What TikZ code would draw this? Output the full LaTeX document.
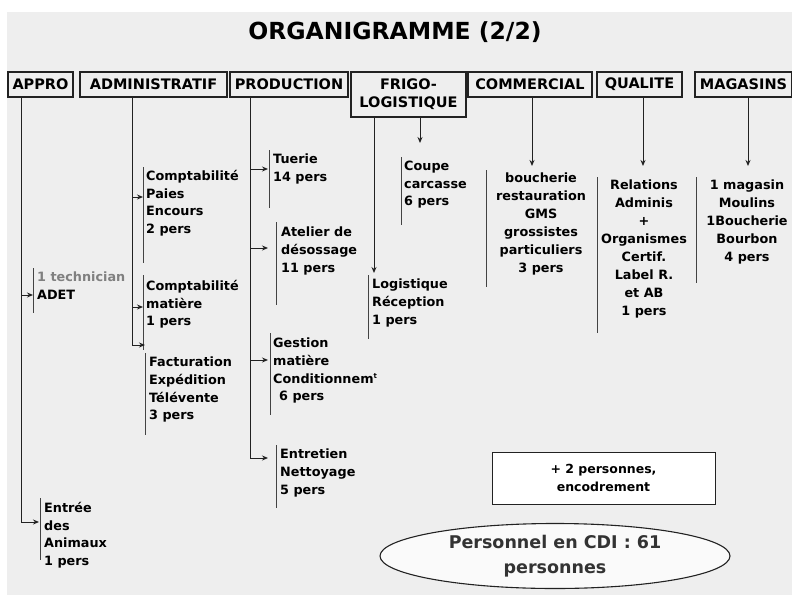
\documentclass[tikz,border=0pt]{standalone}
\usepackage{fontspec}
\setmainfont{DejaVu Sans}
\usetikzlibrary{arrows.meta,shapes.geometric}
\definecolor{bg}{HTML}{EEEEEE}
\definecolor{ln}{HTML}{222222}
\begin{document}
\begin{tikzpicture}[x=1pt,y=-1pt,
  hdr/.style={draw=ln,line width=1.1pt,inner sep=0pt,font=\bfseries\fontsize{14.5}{17}\selectfont,align=center},
  blk/.style={inner sep=0pt,anchor=north west,align=left,font=\bfseries\fontsize{12.8}{17.6}\selectfont},
  blkc/.style={inner sep=0pt,anchor=north,align=center,font=\bfseries\fontsize{12.8}{17.9}\selectfont},
  bar/.style={draw=ln!85,line width=1pt},
  conn/.style={draw=ln,line width=1pt,-{Stealth[length=6pt,width=5pt]}},
  link/.style={draw=ln,line width=1pt}]
\useasboundingbox (0,0) rectangle (792,597);
\fill[white] (0,0) rectangle (792,597);
\fill[bg] (7,12) rectangle (792,595);

% title
\node[font=\bfseries\fontsize{23.5}{26}\selectfont] (title) at (395,32) {ORGANIGRAMME (2/2)};

% headers
\node[hdr,minimum width=65pt,minimum height=25pt] (appro) at (40.5,84.5) {APPRO};
\node[hdr,minimum width=147pt,minimum height=25pt] (admin) at (153.5,84.5) {ADMINISTRATIF};
\node[hdr,minimum width=118pt,minimum height=25pt] (prod) at (289,84.5) {PRODUCTION};
\node[hdr,minimum width=115pt,minimum height=45pt,font=\bfseries\fontsize{14.5}{18}\selectfont] (frigo) at (408.5,94.5) {FRIGO-\\LOGISTIQUE};
\node[hdr,minimum width=124pt,minimum height=25pt] (comm) at (530,84.5) {COMMERCIAL};
\node[hdr,minimum width=85pt,minimum height=25pt] (qual) at (639.5,84.5) {QUALITE};
\node[hdr,minimum width=97pt,minimum height=25pt] (mag) at (743.5,84.5) {MAGASINS};

% connector start points on header bottoms
\coordinate (a0) at (21,97);
\coordinate (d0) at (132,97);
\coordinate (p0) at (250,97);
\coordinate (f1) at (374,117);
\coordinate (f2) at (420,117);
\coordinate (c0) at (532,97);
\coordinate (q0) at (643,97);
\coordinate (m0) at (748,97);

% ---------- APPRO
\node[blk] (adet) at (37,272) {\textcolor{black!50}{1 technician}\\ADET};
\draw[bar] (33,268) -- (33,313);
\node[blk] (entree) at (44,502) {Entrée\\des\\Animaux\\1 pers};
\draw[bar] (40,498) -- (40,560);
\coordinate (adetin) at (33,295);
\coordinate (entin) at (39,522);
\draw[conn] (a0) |- (adetin);
\draw[conn] (a0) |- (entin);

% ---------- ADMINISTRATIF
\node[blk] (compta) at (146,170) {Comptabilité\\Paies\\Encours\\2 pers};
\draw[bar] (143,167) -- (143,263);
\node[blk] (comptm) at (146,280) {Comptabilité\\matière\\1 pers};
\draw[bar] (143,275) -- (143,350);
\node[blk] (fact) at (149,357) {Facturation\\Expédition\\Télévente\\3 pers};
\draw[bar] (145,353) -- (145,435);
\coordinate (compin) at (143,197);
\coordinate (cmin) at (143,307);
\coordinate (factin) at (145,345);
\draw[conn] (d0) |- (compin);
\draw[conn] (d0) |- (cmin);
\draw[conn] (d0) |- (factin);

% ---------- PRODUCTION
\node[blk] (tuerie) at (273,154) {Tuerie\\14 pers};
\draw[bar] (269,150) -- (269,208);
\node[blk] (atelier) at (281,227) {Atelier de\\désossage\\11 pers};
\draw[bar] (276,222) -- (276,305);
\node[blk] (gestion) at (273,338) {Gestion\\matière\\Conditionnem\textsuperscript{\fontsize{7}{7}\selectfont t}\\\hspace*{6pt}6 pers};
\draw[bar] (270,333) -- (270,415);
\node[blk] (entretien) at (280,449) {Entretien\\Nettoyage\\5 pers};
\draw[bar] (276,445) -- (276,508);
\coordinate (tuin) at (268,169);
\coordinate (atin) at (268,248);
\coordinate (gein) at (268,360);
\coordinate (enin) at (268,458);
\draw[conn] (p0) |- (tuin);
\draw[conn] (p0) |- (atin);
\draw[conn] (p0) |- (gein);
\draw[conn] (p0) |- (enin);

% ---------- FRIGO-LOGISTIQUE
\node[blk] (coupe) at (404,161) {Coupe\\carcasse\\6 pers};
\draw[bar] (401,157) -- (401,225);
\node[blk] (logis) at (372,279) {Logistique\\Réception\\1 pers};
\draw[bar] (368,275) -- (368,339);
\coordinate (lgin) at (374,273);
\coordinate (cpin) at (420,143);
\draw[conn] (f1) -- (lgin);
\draw[conn] (f2) -- (cpin);

% ---------- COMMERCIAL
\node[blkc] (combk) at (541,173) {boucherie\\restauration\\GMS\\grossistes\\particuliers\\3 pers};
\draw[bar] (486,170) -- (486,287);
\coordinate (cin) at (532,166);
\draw[conn] (c0) -- (cin);

% ---------- QUALITE
\node[blkc] (qualbk) at (644,180) {Relations\\Adminis\\+\\Organismes\\Certif.\\Label R.\\et AB\\1 pers};
\draw[bar] (597,177) -- (597,333);
\coordinate (qin) at (643,166);
\draw[conn] (q0) -- (qin);

% ---------- MAGASINS
\node[blkc] (magbk) at (747,180) {1 magasin\\Moulins\\1Boucherie\\Bourbon\\4 pers};
\draw[bar] (696,177) -- (696,283);
\coordinate (min) at (748,166);
\draw[conn] (m0) -- (min);

% ---------- bottom boxes
\node[draw=ln,line width=1pt,fill=white,minimum width=223pt,minimum height=52pt,align=center,
  font=\bfseries\fontsize{12.5}{18}\selectfont] (encad) at (603.5,478) {+ 2 personnes,\\encodrement};
\node[ellipse,draw=ln,line width=1.1pt,fill=black!2,minimum width=350pt,minimum height=65pt,inner sep=0pt,
  align=center,text=black!80,font=\bfseries\fontsize{17.5}{25}\selectfont] (cdi) at (555,556) {Personnel en CDI : 61\\personnes};
\end{tikzpicture}
\end{document}
